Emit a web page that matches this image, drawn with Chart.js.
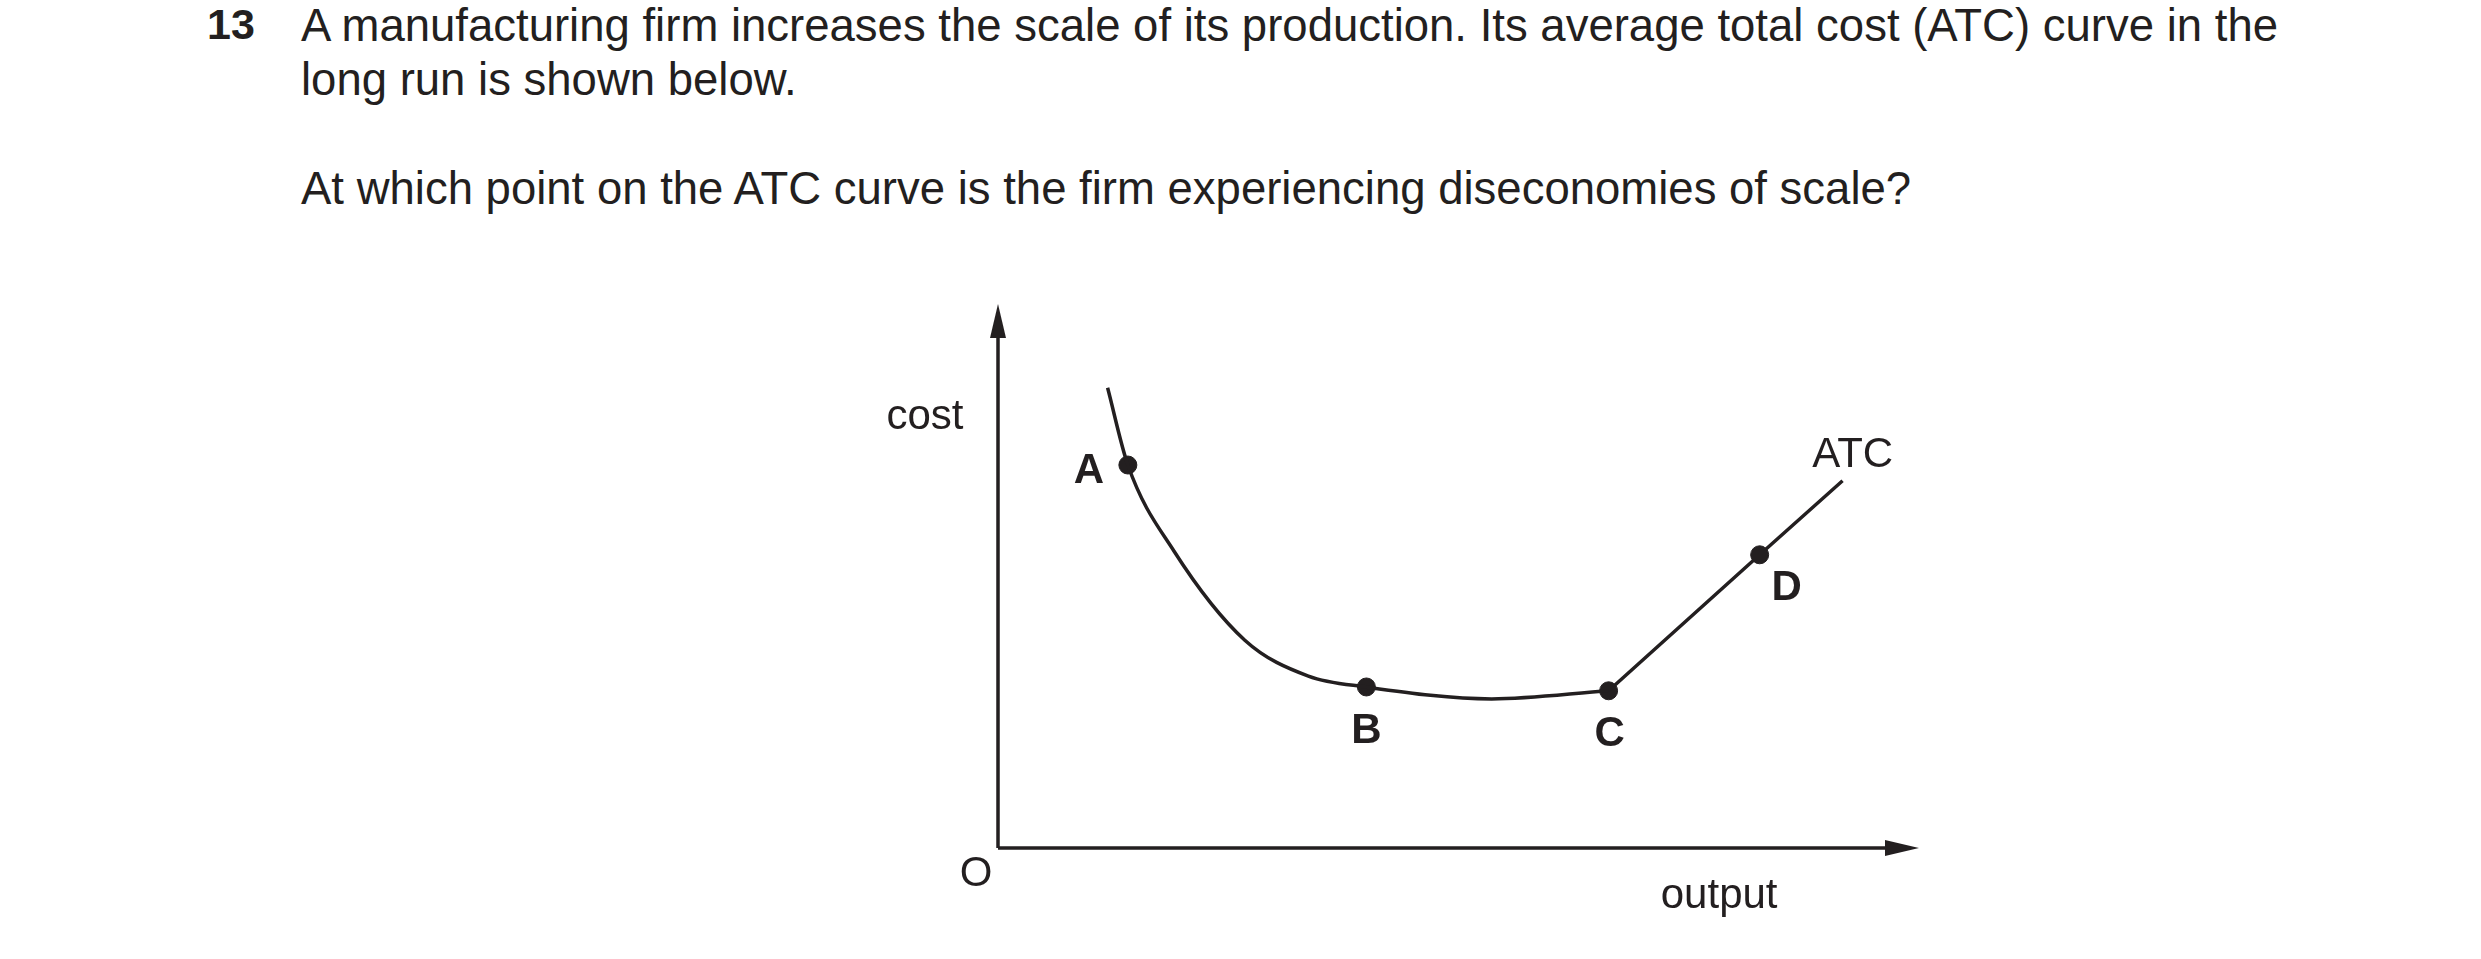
<!DOCTYPE html>
<html><head><meta charset="utf-8">
<script src="https://cdn.jsdelivr.net/npm/chart.js@4"></script>
<style>
body{margin:0;background:#fff;width:2481px;height:959px;overflow:hidden;font-family:"Liberation Sans",Arial,sans-serif;color:#231f20}
#num{position:absolute;left:207px;top:0px;font-size:43px;font-weight:bold}
#q1{position:absolute;left:301px;top:-1px;width:1977px;font-size:45.5px;line-height:54px;text-align:justify;text-align-last:left}
#q2{position:absolute;left:301px;top:163px;font-size:45.5px}
canvas{position:absolute;left:0;top:0}
</style></head><body>
<div id="num">13</div>
<div id="q1">A manufacturing firm increases the scale of its production. Its average total cost (ATC) curve in the long run is shown below.</div>
<div id="q2">At which point on the ATC curve is the firm experiencing diseconomies of scale?</div>
<canvas id="c" width="2481" height="959"></canvas>
<script>
// curve start..C and straight line C..end (x = output, y = cost)
var curveX = [11.9, 14.1, 19.1, 26.8, 33.7, 40.0, 53.6, 66.3];
var curveY = [84.6, 70.4, 54.6, 38.2, 31.6, 29.6, 27.4, 28.9];
var lineX = [66.3, 82.7, 91.7];
var lineY = [28.9, 53.9, 67.5];
var pointNames = ["A", "B", "C", "D"];
var pointX = [14.1, 40.0, 66.3, 82.7];
var pointY = [70.4, 29.6, 28.9, 53.9];
var ink = "#231f20";

function xy(xs, ys) { return xs.map(function (x, i) { return {x: x, y: ys[i]}; }); }

var axesPlugin = {
    id: "axes",
    afterDraw: function (chart) {
        var c = chart.ctx, xs = chart.scales.x, ys = chart.scales.y;
        var x0 = xs.getPixelForValue(0), y0 = ys.getPixelForValue(0);
        var xe = xs.getPixelForValue(100), ye = ys.getPixelForValue(100);
        c.save();
        c.strokeStyle = ink; c.fillStyle = ink; c.lineWidth = 3.5;
        c.beginPath(); c.moveTo(x0, y0); c.lineTo(x0, ye + 20); c.moveTo(x0, y0); c.lineTo(xe - 20, y0); c.stroke();
        c.beginPath(); c.moveTo(x0, ye); c.lineTo(x0 - 8, ye + 34); c.lineTo(x0 + 8, ye + 34); c.closePath(); c.fill();
        c.beginPath(); c.moveTo(xe, y0); c.lineTo(xe - 34, y0 - 8); c.lineTo(xe - 34, y0 + 8); c.closePath(); c.fill();
        c.textAlign = "center"; c.textBaseline = "middle";
        c.font = "42px 'Liberation Sans', Arial";
        c.fillText("O", x0 - 22, y0 + 26);
        c.fillText("cost", x0 - 73, ys.getPixelForValue(79.2));
        c.fillText("output", xs.getPixelForValue(78.3), y0 + 48);
        c.fillText("ATC", xs.getPixelForValue(92.8), ys.getPixelForValue(72.1));
        c.font = "bold 42px 'Liberation Sans', Arial";
        var off = [[-39, 6], [0, 44], [1, 44], [27, 34]];
        pointNames.forEach(function (n, i) {
            c.fillText(n, xs.getPixelForValue(pointX[i]) + off[i][0], ys.getPixelForValue(pointY[i]) + off[i][1]);
        });
        c.restore();
    }
};

new Chart(document.getElementById("c"), {
    type: "scatter",
    data: {
        datasets: [
            {data: xy(curveX, curveY), showLine: true, cubicInterpolationMode: "monotone", borderColor: ink, borderWidth: 3.5, pointRadius: 0},
            {data: xy(lineX, lineY), showLine: true, tension: 0, borderColor: ink, borderWidth: 3.5, pointRadius: 0},
            {data: xy(pointX, pointY), showLine: false, pointRadius: 9, backgroundColor: ink, borderColor: ink}
        ]
    },
    options: {
        responsive: false, animation: false,
        layout: {padding: {left: 998, right: 562, top: 304, bottom: 111}},
        plugins: {legend: {display: false}, tooltip: {enabled: false}},
        scales: {
            x: {type: "linear", min: 0, max: 100, display: false},
            y: {type: "linear", min: 0, max: 100, display: false}
        }
    },
    plugins: [axesPlugin]
});
</script>
</body></html>
